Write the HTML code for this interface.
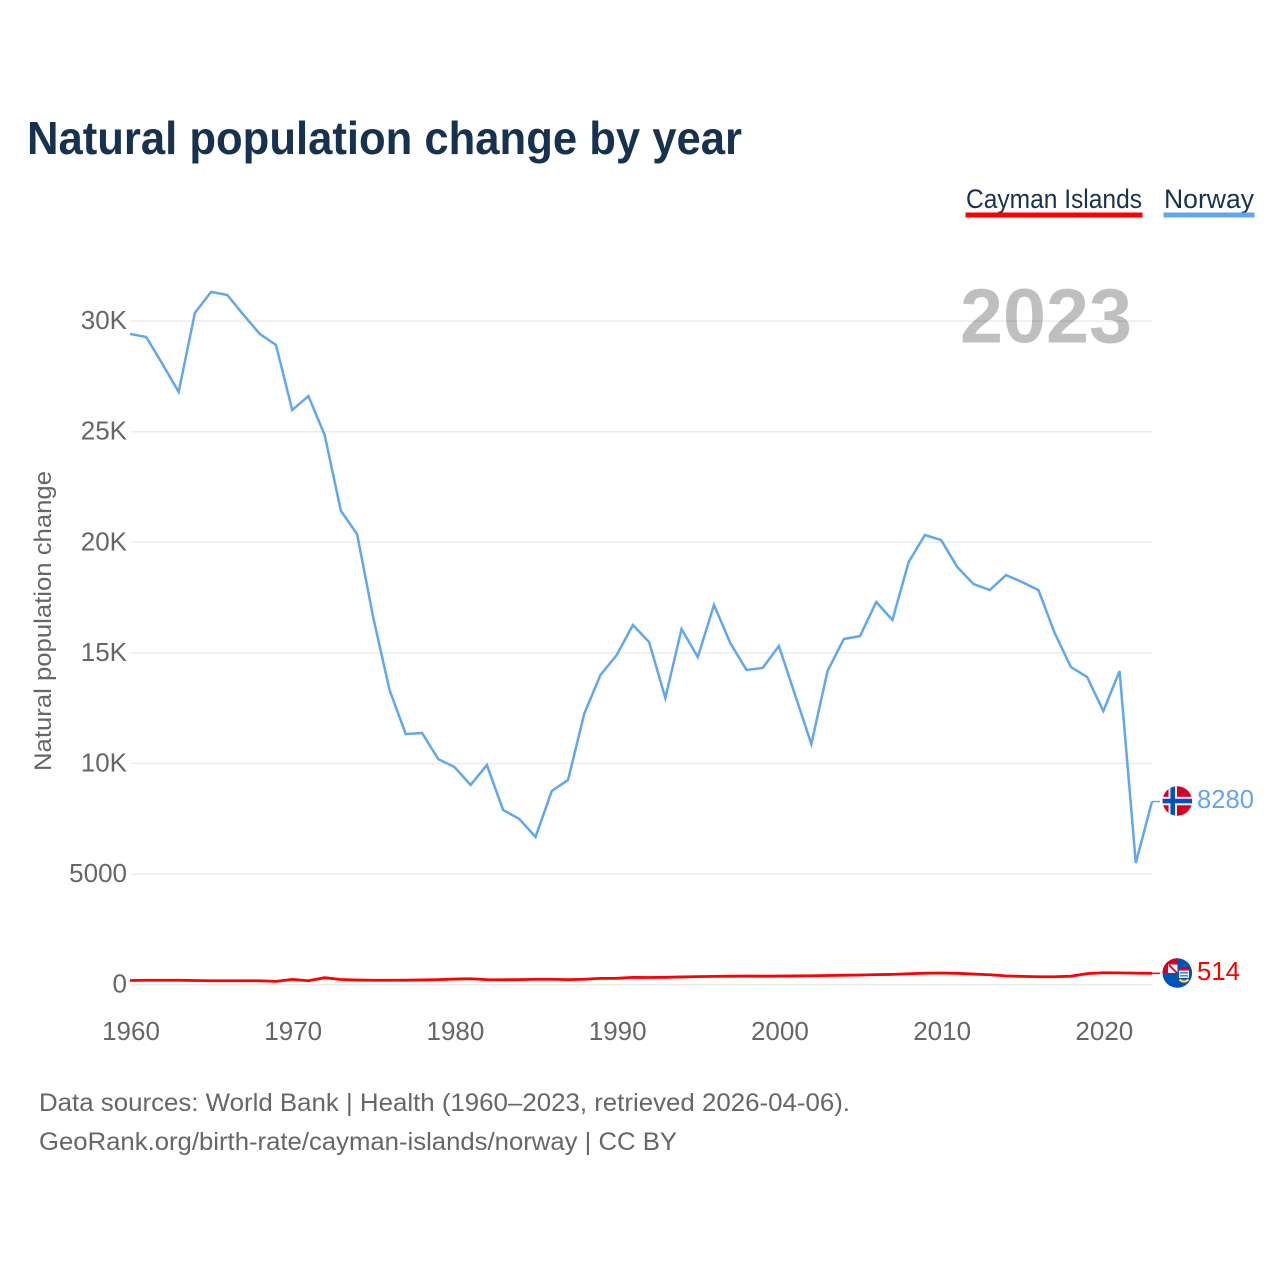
<!DOCTYPE html>
<html lang="en">
<head>
<meta charset="utf-8">
<title>Natural population change by year</title>
<style>
html,body{margin:0;padding:0;background:#fff;width:1280px;height:1280px;overflow:hidden}
svg{display:block}
text{font-family:"Liberation Sans",sans-serif}
</style>
</head>
<body>
<svg id="chart" width="1280" height="1280" viewBox="0 0 1280 1280" xmlns="http://www.w3.org/2000/svg">
  <defs>
    <clipPath id="flag-clip-no"><circle cx="1177.300" cy="801" r="14.800"/></clipPath>
    <clipPath id="flag-clip-ky"><circle cx="1177.300" cy="973" r="14.800"/></clipPath>
  </defs>
  <text x="27" y="154" font-size="46" font-weight="700" fill="#17324f" textLength="715" lengthAdjust="spacingAndGlyphs">Natural population change by year</text>
  <g>
    <g>
      <text x="966" y="208" font-size="26.500" fill="#17324f" textLength="176" lengthAdjust="spacingAndGlyphs">Cayman Islands</text>
      <rect x="965.500" y="212.500" width="177" height="5" fill="#ff0000"/>
    </g>
    <g>
      <text x="1164" y="208" font-size="26.500" fill="#17324f" textLength="90" lengthAdjust="spacingAndGlyphs">Norway</text>
      <rect x="1163.500" y="212.500" width="91" height="5" fill="#62a7ec"/>
    </g>
  </g>
  <g id="grid"></g>
  <text x="960" y="342.500" font-size="77" font-weight="700" fill="#000" fill-opacity="0.25" textLength="172" lengthAdjust="spacingAndGlyphs">2023</text>
  <g id="y-ticks"></g>
  <g id="x-ticks"></g>
  <text transform="translate(51,621) rotate(-90)" text-anchor="middle" font-size="24.500" fill="#666" textLength="300" lengthAdjust="spacingAndGlyphs">Natural population change</text>
  <g id="series"></g>

  <g clip-path="url(#flag-clip-no)">
    <rect x="1162" y="786" width="31" height="30" fill="#d80027"/>
    <rect x="1168.500" y="786" width="8.500" height="30" fill="#f0f0f0"/>
    <rect x="1162" y="796.800" width="31" height="8.500" fill="#f0f0f0"/>
    <rect x="1170.500" y="786" width="4.500" height="30" fill="#0052b4"/>
    <rect x="1162" y="798.800" width="31" height="4.500" fill="#0052b4"/>
  </g>
  <g clip-path="url(#flag-clip-ky)">
    <rect x="1162" y="958" width="31" height="30" fill="#0052b4"/>
    <rect x="1162" y="958" width="15.500" height="15" fill="#d80027"/>
    <rect x="1168" y="964.500" width="9.500" height="8.500" fill="#f0f0f0"/>
    <path d="M1169 965L1177 973" stroke="#d80027" stroke-width="1.800"/>
    <rect x="1179" y="967" width="10" height="11" fill="#f0f0f0"/>
    <rect x="1179" y="967" width="10" height="3.500" fill="#d80027"/>
    <rect x="1180" y="972" width="8" height="1.500" fill="#338af3"/>
    <rect x="1180" y="975" width="8" height="1.500" fill="#338af3"/>
    <path d="M1179.500 979.500Q1184 983.500 1188.500 979.500" stroke="#ffda44" stroke-width="2.200" fill="none"/>
  </g>
  <text id="label-no" x="1197" y="808" font-size="26" fill="#62a7ec" textLength="57" lengthAdjust="spacingAndGlyphs">8280</text>
  <text id="label-ky" x="1197" y="980" font-size="26" fill="#ff0000" textLength="43" lengthAdjust="spacingAndGlyphs">514</text>

  <text x="39" y="1111" font-size="25" fill="#666" textLength="811" lengthAdjust="spacingAndGlyphs">Data sources: World Bank | Health (1960–2023, retrieved 2026-04-06).</text>
  <text x="39" y="1150" font-size="25" fill="#666" textLength="638" lengthAdjust="spacingAndGlyphs">GeoRank.org/birth-rate/cayman-islands/norway | CC BY</text>
</svg>
<script>
const startYear = 1960;
const endYear = 2023;
const yTickValues = [0, 5000, 10000, 15000, 20000, 25000, 30000];
const yTickLabels = ["0", "5000", "10K", "15K", "20K", "25K", "30K"];
const xTickYears = [1960, 1970, 1980, 1990, 2000, 2010, 2020];
const norwayValues = [29420,29280,28060,26800,30370,31320,31180,30280,29420,28920,
  25980,26610,24850,21420,20370,16580,13320,11330,11380,10200,
  9840,9030,9930,7900,7490,6680,8760,9250,12240,14000,
  14900,16260,15490,12960,16080,14810,17170,15450,14230,14320,
  15310,13100,10880,14180,15630,15760,17300,16490,19110,20330,
  20100,18880,18110,17840,18520,18200,17840,15900,14360,13910,
  12370,14180,5500,8280];
const caymanValues = [190,200,200,200,190,180,180,180,180,150,
  240,180,316,235,210,200,200,205,215,230,
  255,270,230,225,230,245,245,230,245,285,
  290,330,325,335,350,365,375,385,390,385,
  390,395,405,415,430,440,455,465,495,520,
  530,515,480,450,400,375,360,360,385,500,
  540,535,525,514];

const svgNS = "http://www.w3.org/2000/svg";
function xScale(year) { return 130 + (year - startYear) * (1152 - 130) / (endYear - startYear); }
function yScale(value) { return 984.7 - value * 0.02212; }

const grid = document.getElementById('grid');
const yTicks = document.getElementById('y-ticks');
yTickValues.forEach(function (value, i) {
  const line = document.createElementNS(svgNS, 'line');
  
  
  line.setAttribute('x1', 131);
  line.setAttribute('x2', 1152);
  line.setAttribute('y1', yScale(value));
  line.setAttribute('y2', yScale(value));
  line.setAttribute('stroke', '#ececec');
  line.setAttribute('stroke-width', 1.5);
  grid.appendChild(line);
  const label = document.createElementNS(svgNS, 'text');
  
  
  label.setAttribute('x', 127);
  label.setAttribute('y', yScale(value) + 8);
  label.setAttribute('text-anchor', 'end');
  label.setAttribute('font-size', 26);
  label.setAttribute('fill', '#666');
  label.textContent = yTickLabels[i];
  yTicks.appendChild(label);
});

const xTicks = document.getElementById('x-ticks');
xTickYears.forEach(function (year) {
  const label = document.createElementNS(svgNS, 'text');
  
  
  label.setAttribute('x', xScale(year) + 1);
  label.setAttribute('y', 1040);
  label.setAttribute('text-anchor', 'middle');
  label.setAttribute('font-size', 26);
  label.setAttribute('fill', '#666');
  label.textContent = String(year);
  xTicks.appendChild(label);
});

function linePoints(values) {
  return values.map(function (value, i) {
    return xScale(startYear + i).toFixed(2) + ',' + yScale(value).toFixed(2);
  }).join(' ');
}
function lastY(values) { return yScale(values[values.length - 1]); }

const series = document.getElementById('series');
const norwayLine = document.createElementNS(svgNS, 'polyline');


norwayLine.setAttribute('points', linePoints(norwayValues));
norwayLine.setAttribute('fill', 'none');
norwayLine.setAttribute('stroke', '#62a7ec');
norwayLine.setAttribute('stroke-width', 2.5);
series.appendChild(norwayLine);

const caymanLine = document.createElementNS(svgNS, 'polyline');


caymanLine.setAttribute('points', linePoints(caymanValues));
caymanLine.setAttribute('fill', 'none');
caymanLine.setAttribute('stroke', '#ff0000');
caymanLine.setAttribute('stroke-width', 2.8);
series.appendChild(caymanLine);

const norwayConnector = document.createElementNS(svgNS, 'line');


norwayConnector.setAttribute('x1', xScale(endYear));
norwayConnector.setAttribute('x2', 1160);
norwayConnector.setAttribute('y1', lastY(norwayValues));
norwayConnector.setAttribute('y2', lastY(norwayValues));
norwayConnector.setAttribute('stroke', '#62a7ec');
norwayConnector.setAttribute('stroke-width', 1.5);
series.appendChild(norwayConnector);

const caymanConnector = document.createElementNS(svgNS, 'line');


caymanConnector.setAttribute('x1', xScale(endYear));
caymanConnector.setAttribute('x2', 1160);
caymanConnector.setAttribute('y1', lastY(caymanValues));
caymanConnector.setAttribute('y2', lastY(caymanValues));
caymanConnector.setAttribute('stroke', '#ff0000');
caymanConnector.setAttribute('stroke-width', 1.5);
series.appendChild(caymanConnector);

document.getElementById('label-no').textContent = String(norwayValues[norwayValues.length - 1]);
document.getElementById('label-ky').textContent = String(caymanValues[caymanValues.length - 1]);
</script>
</body>
</html>
